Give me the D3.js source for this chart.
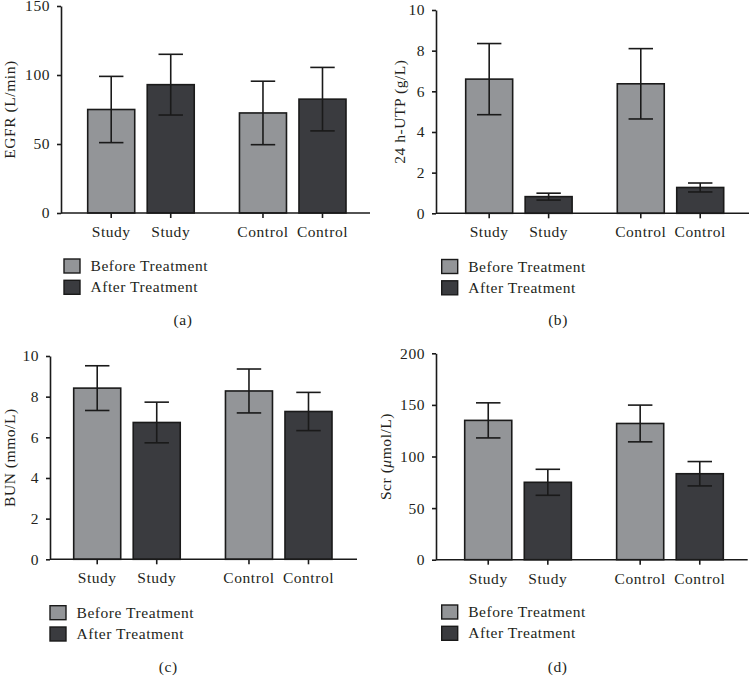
<!DOCTYPE html>
<html>
<head>
<meta charset="utf-8">
<script src="https://cdn.jsdelivr.net/npm/d3@7/dist/d3.min.js"></script>
<style>
  html, body { margin: 0; padding: 0; background: #fff; }
  svg { display: block; }
  text { font-family: "Liberation Serif", "Times New Roman", serif; font-size: 15.5px; fill: #231f20; letter-spacing: 0.55px; }
</style>
</head>
<body>
<script>
// ---------- data ----------
const groups = ["Study", "Control"];
const phases = ["Before Treatment", "After Treatment"];

// order of values: Study-Before, Study-After, Control-Before, Control-After
const egfrMean = [75, 93, 72.5, 82.5];
const egfrSD   = [24, 22, 23, 23];
const utpMean  = [6.6, 0.82, 6.37, 1.27];
const utpSD    = [1.75, 0.17, 1.73, 0.22];
const bunMean  = [8.42, 6.73, 8.28, 7.27];
const bunSD    = [1.1, 1.0, 1.08, 0.94];
const scrMean  = [135, 75, 132, 83.3];
const scrSD    = [17, 12.6, 17.8, 11.8];

const egfrTicks = [0, 50, 100, 150];
const utpTicks  = [0, 2, 4, 6, 8, 10];
const bunTicks  = [0, 2, 4, 6, 8, 10];
const scrTicks  = [0, 50, 100, 150, 200];

const panelLetters = ["(a)", "(b)", "(c)", "(d)"];

// ---------- styling / layout ----------
const W = 749, H = 677;
const colors = { "Before Treatment": "#939598", "After Treatment": "#3a3b3f" };
const ink = "#1a1a1a";

const panels = [
  { title: ["EGFR (L/min)"], mean: egfrMean, sd: egfrSD, ticks: egfrTicks,
    axisX: 61, axisRight: 370, top: 6, bottom: 213, bandStart: 87.7, bandEnd: 346,
    titleX: 15, legendX: 64, legendY: 259, letterX: 183, letterY: 325 },
  { title: ["24 h-UTP (g/L)"], mean: utpMean, sd: utpSD, ticks: utpTicks,
    axisX: 436, axisRight: 749, top: 10, bottom: 213.3, bandStart: 465.7, bandEnd: 723.7,
    titleX: 405, legendX: 441.7, legendY: 259.5, letterX: 558, letterY: 325 },
  { title: ["BUN (mmo/L)"], mean: bunMean, sd: bunSD, ticks: bunTicks,
    axisX: 50, axisRight: 357, top: 356, bottom: 559.3, bandStart: 73.7, bandEnd: 332,
    titleX: 15, legendX: 50, legendY: 605.7, letterX: 168.3, letterY: 672 },
  { title: ["Scr (", "μ", "mol/L)"], mean: scrMean, sd: scrSD, ticks: scrTicks,
    axisX: 436, axisRight: 747.7, top: 353.3, bottom: 559.7, bandStart: 464.7, bandEnd: 723.3,
    titleX: 391, legendX: 441.7, legendY: 605, letterX: 557.7, letterY: 672 }
];

const svg = d3.select("body").append("svg")
  .attr("width", W).attr("height", H)
  .attr("viewBox", `0 0 ${W} ${H}`);

panels.forEach((p, pi) => {
  const g = svg.append("g");

  const rows = [];
  groups.forEach((grp, gi) => phases.forEach((ph, hi) => {
    const k = gi * 2 + hi;
    rows.push({ group: grp, phase: ph, mean: p.mean[k], sd: p.sd[k] });
  }));

  const xOuter = d3.scaleBand().domain(groups)
    .range([p.bandStart, p.bandEnd]).paddingInner(0.298).paddingOuter(0);
  const xInner = d3.scaleBand().domain(phases)
    .range([0, xOuter.bandwidth()]).paddingInner(0.21).paddingOuter(0);
  const xc = d => xOuter(d.group) + xInner(d.phase) + xInner.bandwidth() / 2;

  const y = d3.scaleLinear().domain([0, d3.max(p.ticks)]).range([p.bottom, p.top]);

  // bars
  g.selectAll("rect.bar").data(rows).join("rect")
    .attr("class", "bar")
    .attr("x", d => xOuter(d.group) + xInner(d.phase))
    .attr("width", xInner.bandwidth())
    .attr("y", d => y(d.mean))
    .attr("height", d => y(0) - y(d.mean))
    .attr("fill", d => colors[d.phase])
    .attr("stroke", ink).attr("stroke-width", 1.6);

  // error bars
  const capW = xInner.bandwidth() * 0.26;
  const eb = g.selectAll("g.err").data(rows).join("g").attr("class", "err")
    .attr("stroke", ink).attr("stroke-width", 1.6);
  eb.append("line")
    .attr("x1", xc).attr("x2", xc)
    .attr("y1", d => y(d.mean + d.sd)).attr("y2", d => y(d.mean - d.sd));
  eb.append("line")
    .attr("x1", d => xc(d) - capW).attr("x2", d => xc(d) + capW)
    .attr("y1", d => y(d.mean + d.sd)).attr("y2", d => y(d.mean + d.sd));
  eb.append("line")
    .attr("x1", d => xc(d) - capW).attr("x2", d => xc(d) + capW)
    .attr("y1", d => y(d.mean - d.sd)).attr("y2", d => y(d.mean - d.sd));

  // y axis
  const yAxis = g.append("g")
    .attr("transform", `translate(${p.axisX},0)`)
    .call(d3.axisLeft(y).tickValues(p.ticks).tickSize(4).tickSizeOuter(0).tickPadding(7));
  yAxis.select(".domain").attr("stroke", ink).attr("stroke-width", 1.6);
  yAxis.selectAll(".tick line").attr("stroke", ink).attr("stroke-width", 1.6);
  yAxis.selectAll(".tick text").attr("fill", "#231f20");
  yAxis.attr("font-family", null).attr("font-size", null);

  // x axis
  g.append("line")
    .attr("x1", p.axisX).attr("x2", p.axisRight)
    .attr("y1", y(0)).attr("y2", y(0))
    .attr("stroke", ink).attr("stroke-width", 1.6);
  g.selectAll("line.xtick").data(rows).join("line").attr("class", "xtick")
    .attr("x1", xc).attr("x2", xc)
    .attr("y1", y(0)).attr("y2", y(0) + 5)
    .attr("stroke", ink).attr("stroke-width", 1.6);
  g.selectAll("text.xlab").data(rows).join("text").attr("class", "xlab")
    .attr("x", xc).attr("y", y(0) + 24)
    .attr("text-anchor", "middle")
    .text(d => d.group);

  // y title
  const t = g.append("text")
    .attr("transform", `translate(${p.titleX},${(p.top + p.bottom) / 2}) rotate(-90)`)
    .attr("text-anchor", "middle");
  p.title.forEach((s) => {
    const ts = t.append("tspan").text(s);
    if (s === "μ") ts.attr("font-style", "italic");
  });

  // legend
  const lg = g.append("g").attr("transform", `translate(${p.legendX},${p.legendY})`);
  const li = lg.selectAll("g").data(phases).join("g")
    .attr("transform", (d, i) => `translate(0,${i * 21.3})`);
  li.append("rect").attr("x", 0).attr("y", 0).attr("width", 16).attr("height", 14)
    .attr("fill", d => colors[d]).attr("stroke", ink).attr("stroke-width", 1.4);
  li.append("text").attr("x", 26.5).attr("y", 12).text(d => d);

  // panel letter
  g.append("text").attr("x", p.letterX).attr("y", p.letterY)
    .attr("text-anchor", "middle").text(panelLetters[pi]);
});
</script>
</body>
</html>
